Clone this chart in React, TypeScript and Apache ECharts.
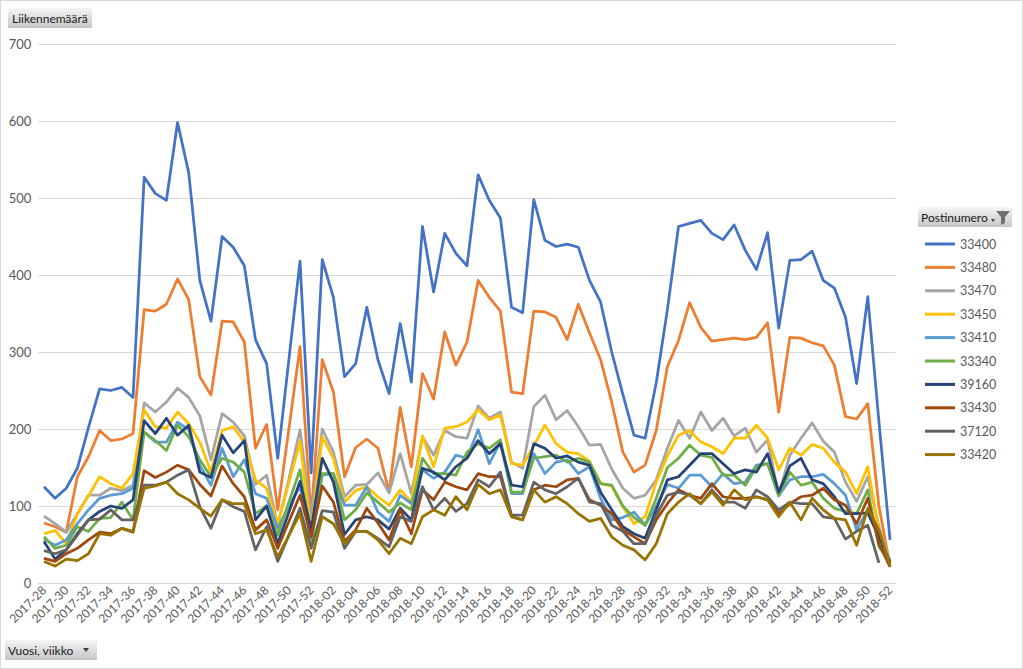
import React, { useEffect, useRef } from "react";
import * as echarts from "echarts";

const categories = [
  "2017-28","2017-29","2017-30","2017-31","2017-32","2017-33","2017-34","2017-35","2017-36","2017-37",
  "2017-38","2017-39","2017-40","2017-41","2017-42","2017-43","2017-44","2017-45","2017-46","2017-47",
  "2017-48","2017-49","2017-50","2017-51","2017-52","2018-01","2018-02","2018-03","2018-04","2018-05",
  "2018-06","2018-07","2018-08","2018-09","2018-10","2018-11","2018-12","2018-13","2018-14","2018-15",
  "2018-16","2018-17","2018-18","2018-19","2018-20","2018-21","2018-22","2018-23","2018-24","2018-25",
  "2018-26","2018-27","2018-28","2018-29","2018-30","2018-31","2018-32","2018-33","2018-34","2018-35",
  "2018-36","2018-37","2018-38","2018-39","2018-40","2018-41","2018-42","2018-43","2018-44","2018-45",
  "2018-46","2018-47","2018-48","2018-49","2018-50","2018-51","2018-52",
];

const s33400 = [
  125,110,123,149,202,252,250,254,241,527,
  506,497,598,533,393,340,450,436,412,316,
  285,162,290,418,143,420,371,268,285,358,
  290,246,337,261,463,378,454,428,412,530,
  497,474,358,351,498,445,437,440,436,393,
  365,300,245,192,188,260,355,463,467,471,
  454,446,465,432,407,455,331,419,420,431,
  393,383,345,259,372,210,56,
];
const s33480 = [
  78,73,66,138,164,198,185,187,194,355,
  353,362,395,368,268,244,340,339,313,175,
  206,95,200,307,85,290,248,138,176,187,
  175,118,228,151,272,239,326,283,313,393,
  371,353,248,246,353,352,345,316,362,325,
  290,235,170,144,153,198,281,315,364,332,
  314,316,318,316,319,338,222,319,318,312,
  308,283,216,213,233,100,22,
];
const s33470 = [
  87,77,66,90,114,114,123,120,127,234,
  222,235,253,241,217,160,220,209,191,128,
  140,75,135,199,85,200,170,112,127,128,
  143,117,168,116,190,166,198,190,188,230,
  214,222,157,149,229,244,212,224,203,179,
  180,148,123,110,114,134,175,211,188,222,
  198,214,191,201,170,186,114,166,188,208,
  184,170,131,106,138,73,28,
];
const s33450 = [
  64,68,51,90,113,138,129,123,142,225,
  203,201,222,207,183,144,198,203,183,134,
  123,77,130,184,65,190,162,105,120,125,
  112,101,121,105,191,151,201,203,209,225,
  212,218,155,153,178,205,181,170,168,158,
  129,126,99,77,86,131,165,192,198,183,
  177,168,188,188,205,188,147,175,166,180,
  175,157,144,116,151,69,28,
];
const s33410 = [
  57,49,56,77,95,110,114,116,123,196,
  183,183,209,199,153,127,175,138,160,116,
  110,71,100,125,65,140,142,101,101,125,
  92,80,114,103,147,136,144,166,162,199,
  155,183,116,116,168,142,157,160,142,151,
  110,82,85,92,75,100,128,123,140,140,
  125,142,129,131,153,155,113,134,138,138,
  141,129,114,69,95,64,28,
];
const s33340 = [
  60,45,49,73,67,84,85,105,82,196,
  185,172,205,190,160,138,162,157,144,90,
  100,62,105,147,50,142,142,82,95,117,
  105,92,104,95,162,142,142,140,170,181,
  175,186,118,118,162,164,166,157,162,157,
  129,127,100,85,75,110,150,162,179,166,
  163,140,140,127,151,155,114,144,127,131,
  110,97,93,90,121,47,28,
];
const s39160 = [
  54,31,43,64,82,93,100,97,108,211,
  194,214,192,205,144,137,192,169,185,82,
  100,51,92,132,69,162,131,63,82,86,
  82,70,97,82,149,144,134,151,162,185,
  168,181,127,125,181,175,162,165,157,153,
  118,95,73,64,58,95,134,138,153,168,
  168,155,142,147,144,168,118,152,162,134,
  129,112,90,90,91,60,26,
];
const s33430 = [
  32,28,38,45,56,66,64,71,66,146,
  137,144,153,147,128,113,152,129,112,69,
  82,45,80,114,60,126,105,54,69,97,
  78,56,95,64,121,108,131,125,121,142,
  138,138,86,82,121,127,125,134,136,108,
  101,90,69,60,51,82,103,121,114,110,
  129,112,110,110,112,108,90,103,112,114,
  123,108,101,77,110,51,21,
];
const s37120 = [
  42,38,43,62,82,83,95,82,82,127,
  127,131,140,147,99,71,108,99,93,43,
  73,28,62,97,45,94,92,45,67,67,
  58,47,86,80,125,95,110,93,103,134,
  125,144,88,88,131,121,116,125,136,105,
  103,75,67,51,51,88,114,118,114,103,
  121,105,105,97,121,112,95,105,103,103,
  86,84,57,67,75,26,null,
];
const s33420 = [
  28,22,31,29,38,64,62,71,67,123,
  126,131,116,108,97,87,108,103,103,64,
  69,34,62,90,28,86,77,51,67,67,
  56,38,58,51,86,95,88,112,95,128,
  116,121,86,82,121,105,112,103,90,80,
  84,60,49,43,30,51,90,105,116,103,
  118,101,121,108,112,108,86,105,82,110,
  95,84,82,49,97,69,23,
];

const seriesNames = ["33400","33480","33470","33450","33410","33340","39160","33430","37120","33420"];
const seriesData = [s33400, s33480, s33470, s33450, s33410, s33340, s39160, s33430, s37120, s33420];
const seriesColors = ["#4472C4","#ED7D31","#A5A5A5","#FFC000","#5B9BD5","#70AD47","#264478","#9E480E","#636363","#997300"];

const yTicks = { min: 0, max: 700, interval: 100 };

const FONT = "Lato, 'Open Sans', sans-serif";

const btnFill = {
  type: "linear", x: 0, y: 0, x2: 0, y2: 1,
  colorStops: [
    { offset: 0, color: "#f5f5f5" },
    { offset: 1, color: "#c6c6c6" },
  ],
};

export default function App() {
  const ref = useRef<HTMLDivElement>(null);
  useEffect(() => {
    if (!ref.current) return;
    const chart = echarts.init(ref.current, null, { renderer: "svg" });
    chart.setOption({
      animation: false,
      backgroundColor: "#ffffff",
      grid: { left: 38.4, right: 127.4, top: 44, bottom: 86, containLabel: false },
      xAxis: {
        type: "category",
        data: categories,
        boundaryGap: true,
        axisTick: { show: false },
        axisLine: { lineStyle: { color: "#d9d9d9", width: 1 } },
        axisLabel: {
          interval: 1,
          rotate: 45,
          color: "#595959",
          fontSize: 12,
          fontFamily: FONT,
          margin: 5,
        },
      },
      yAxis: {
        type: "value",
        min: yTicks.min,
        max: yTicks.max,
        interval: yTicks.interval,
        axisLine: { show: false },
        axisTick: { show: false },
        axisLabel: { color: "#595959", fontSize: 13, fontFamily: FONT, margin: 7 },
        splitLine: { lineStyle: { color: "#d9d9d9", width: 1 } },
      },
      legend: {
        orient: "vertical",
        left: 920,
        top: 231,
        itemWidth: 30,
        itemHeight: 3,
        itemGap: 7.4,
        icon: "rect",
        selectedMode: false,
        textStyle: { color: "#595959", fontSize: 12.5, fontFamily: FONT, lineHeight: 16 },
        data: seriesNames,
      },
      series: seriesNames.map((name, i) => ({
        name,
        type: "line",
        data: seriesData[i],
        symbol: "none",
        connectNulls: false,
        color: seriesColors[i],
        lineStyle: { width: 2.75, color: seriesColors[i], join: "round" },
        emphasis: { disabled: true },
      })),
      graphic: [
        {
          type: "rect",
          shape: { x: 8, y: 8, width: 84, height: 20 },
          style: { fill: btnFill as any },
        },
        {
          type: "text",
          x: 12, y: 18,
          style: { text: "Liikennemäärä", fill: "#1a1a1a", font: `12px ${FONT}`, verticalAlign: "middle" },
        },
        {
          type: "rect",
          shape: { x: 5, y: 640, width: 92, height: 20 },
          style: { fill: btnFill as any },
        },
        {
          type: "text",
          x: 8, y: 650,
          style: { text: "Vuosi, viikko", fill: "#1a1a1a", font: `12px ${FONT}`, verticalAlign: "middle" },
        },
        {
          type: "polygon",
          shape: { points: [[83, 648], [89, 648], [86, 652]] },
          style: { fill: "#404040" },
        },
        {
          type: "rect",
          shape: { x: 918, y: 207, width: 94, height: 20 },
          style: { fill: btnFill as any },
        },
        {
          type: "text",
          x: 921, y: 217,
          style: { text: "Postinumero", fill: "#1a1a1a", font: `12px ${FONT}`, verticalAlign: "middle" },
        },
        {
          type: "polygon",
          shape: { points: [[991, 219], [995, 219], [993, 222]] },
          style: { fill: "#404040" },
        },
        {
          type: "polygon",
          shape: { points: [[996, 211], [1010, 211], [1005, 217], [1005, 223], [1001, 225], [1001, 217]] },
          style: { fill: "#6f6f6f" },
        },
      ],
    });
    return () => chart.dispose();
  }, []);
  return (
    <div style={{ position: "absolute", left: 0, top: 0, width: 1023, height: 669 }}>
      <div ref={ref} style={{ position: "absolute", left: 0, top: 0, width: 1023, height: 669 }} />
      <div
        style={{
          position: "absolute", left: 0, top: 0, width: 1023, height: 669,
          boxSizing: "border-box", border: "1px solid #d9d9d9", pointerEvents: "none",
        }}
      />
    </div>
  );
}
